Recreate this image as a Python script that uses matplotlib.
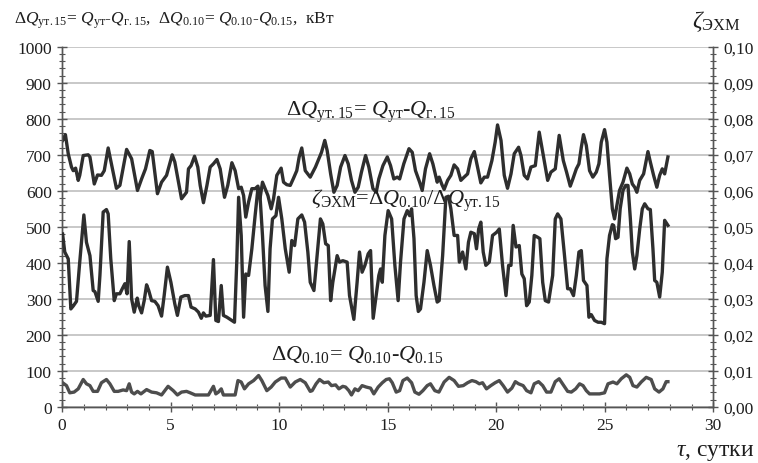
import matplotlib
matplotlib.use("Agg")
import matplotlib.pyplot as plt
from matplotlib.ticker import MultipleLocator, FuncFormatter

plt.rcParams['font.family'] = ['Liberation Serif', 'DejaVu Serif']
plt.rcParams['mathtext.fontset'] = 'custom'
plt.rcParams['mathtext.rm'] = 'Liberation Serif'
plt.rcParams['mathtext.it'] = 'Liberation Serif:italic'
plt.rcParams['mathtext.bf'] = 'Liberation Serif:bold'

# dQ_ut.15, kW (left axis)
top_days = [0.02, 0.15, 0.28, 0.43, 0.51, 0.62, 0.74, 0.81, 0.97, 1.20, 1.28, 1.48, 1.63, 1.81, 1.94,
            2.12, 2.27, 2.50, 2.66, 2.97, 3.20, 3.47, 3.66, 3.84, 4.04, 4.15, 4.39, 4.58, 4.81, 5.07,
            5.19, 5.50, 5.73, 5.82, 5.94, 6.10, 6.25, 6.36, 6.51, 6.67, 6.82, 6.97, 7.13, 7.28, 7.48,
            7.63, 7.82, 7.97, 8.13, 8.25, 8.36, 8.46, 8.59, 8.74, 8.89, 9.02, 9.12, 9.23, 9.35, 9.48,
            9.63, 9.74, 9.89, 10.09, 10.20, 10.35, 10.51, 10.66, 10.81, 10.92, 11.04, 11.20, 11.43,
            11.67, 11.83, 11.95, 12.10, 12.21, 12.37, 12.52, 12.67, 12.83, 13.03, 13.18, 13.33, 13.49,
            13.64, 13.79, 13.98, 14.13, 14.32, 14.47, 14.59, 14.78, 14.98, 15.13, 15.28, 15.44, 15.55,
            15.74, 15.98, 16.13, 16.28, 16.47, 16.59, 16.74, 16.93, 17.08, 17.28, 17.37, 17.50, 17.60,
            17.76, 17.91, 18.06, 18.22, 18.37, 18.52, 18.68, 18.83, 18.99, 19.14, 19.29, 19.45, 19.60,
            19.80, 19.95, 20.06, 20.22, 20.37, 20.52, 20.68, 20.83, 21.03, 21.14, 21.29, 21.44, 21.60,
            21.80, 21.98, 22.17, 22.37, 22.52, 22.72, 22.90, 23.09, 23.24, 23.41, 23.53, 23.69, 23.81,
            23.92, 24.02, 24.15, 24.30, 24.45, 24.61, 24.73, 24.84, 24.99, 25.10, 25.22, 25.35, 25.45,
            25.56, 25.68, 25.84, 26.02, 26.15, 26.27, 26.38, 26.48, 26.61, 26.79, 26.99, 27.10, 27.25,
            27.40, 27.53, 27.65, 27.76, 27.91]
top_kw = [740, 756, 703, 666, 656, 663, 629, 643, 698, 700, 694, 619, 644, 643, 656,
          719, 675, 607, 615, 715, 689, 601, 633, 661, 712, 709, 592, 624, 643, 700,
          680, 578, 596, 661, 670, 696, 666, 615, 567, 615, 666, 675, 687, 661, 582,
          615, 678, 656, 606, 610, 587, 527, 569, 606, 606, 613, 580, 624, 606, 587,
          550, 578, 643, 663, 624, 617, 615, 635, 656, 694, 719, 656, 638,
          666, 689, 707, 740, 712, 647, 596, 615, 666, 698, 675, 629, 596,
          610, 652, 698, 666, 606, 596, 633, 670, 694, 670, 633, 638, 633,
          675, 717, 707, 656, 624, 601, 661, 703, 675, 624, 638, 617, 604,
          629, 643, 672, 661, 629, 638, 647, 689, 709, 666, 622, 638, 638,
          684, 735, 783, 740, 643, 607, 647, 703, 721, 698, 643, 633, 666,
          670, 763, 698, 629, 652, 661, 754, 684, 652, 613, 633, 661, 675,
          721, 756, 726, 656, 638, 652, 675, 735, 770, 735, 643, 550, 522,
          559, 601, 624, 663, 647, 619, 610, 596, 629, 647, 709, 680, 643,
          610, 643, 661, 647, 694]

# zeta_EXM = dQ_0.10 / dQ_ut.15 (right axis)
zeta_days = [0.02, 0.12, 0.28, 0.40, 0.51, 0.66, 0.81, 1.00, 1.12, 1.28, 1.43, 1.51, 1.66, 1.74, 1.89,
             2.04, 2.12, 2.24, 2.40, 2.50, 2.66, 2.77, 2.89, 2.99, 3.09, 3.20, 3.32, 3.46, 3.53, 3.66,
             3.78, 3.89, 3.99, 4.12, 4.27, 4.42, 4.58, 4.70, 4.85, 5.01, 5.19, 5.31, 5.47, 5.65, 5.82,
             5.94, 6.13, 6.28, 6.41, 6.51, 6.62, 6.82, 6.97, 7.08, 7.20, 7.33, 7.43, 7.59, 7.74, 7.94,
             8.05, 8.13, 8.25, 8.36, 8.46, 8.59, 8.74, 8.89, 9.02, 9.12, 9.23, 9.35, 9.48, 9.58, 9.69,
             9.85, 9.97, 10.12, 10.28, 10.46, 10.58, 10.71, 10.86, 11.04, 11.17, 11.32, 11.43, 11.60,
             11.75, 11.90, 12.01, 12.14, 12.26, 12.37, 12.47, 12.60, 12.67, 12.78, 12.93, 13.13, 13.24,
             13.44, 13.59, 13.70, 13.82, 13.95, 14.10, 14.21, 14.33, 14.49, 14.59, 14.67, 14.75, 14.87,
             15.02, 15.18, 15.33, 15.48, 15.59, 15.75, 15.90, 16.01, 16.10, 16.21, 16.31, 16.41, 16.51,
             16.67, 16.82, 16.97, 17.13, 17.28, 17.37, 17.53, 17.68, 17.80, 17.91, 18.06, 18.22, 18.30,
             18.45, 18.60, 18.72, 18.83, 18.99, 19.09, 19.19, 19.29, 19.40, 19.52, 19.68, 19.83, 20.02,
             20.14, 20.29, 20.45, 20.57, 20.68, 20.78, 20.91, 21.06, 21.18, 21.29, 21.40, 21.52, 21.64,
             21.75, 21.91, 22.01, 22.14, 22.26, 22.41, 22.60, 22.72, 22.83, 22.98, 23.13, 23.29, 23.41,
             23.56, 23.69, 23.81, 23.92, 24.02, 24.18, 24.27, 24.38, 24.53, 24.69, 24.84, 24.99, 25.10,
             25.22, 25.35, 25.41, 25.50, 25.61, 25.71, 25.84, 25.96, 26.07, 26.18, 26.27, 26.38, 26.48,
             26.61, 26.73, 26.84, 26.99, 27.10, 27.22, 27.30, 27.40, 27.53, 27.65, 27.76, 27.91]
zeta = [0.0480, 0.0430, 0.0411, 0.0272, 0.0280, 0.0293, 0.0402, 0.0533, 0.0457, 0.0420, 0.0323, 0.0320,
        0.0293, 0.0365, 0.0541, 0.0548, 0.0536, 0.0411, 0.0295, 0.0314, 0.0314, 0.0328, 0.0342, 0.0314,
        0.0459, 0.0300, 0.0263, 0.0302, 0.0281, 0.0261, 0.0295, 0.0339, 0.0323, 0.0295, 0.0293, 0.0281,
        0.0252, 0.0309, 0.0388, 0.0346, 0.0286, 0.0254, 0.0305, 0.0309, 0.0309, 0.0277, 0.0272, 0.0263,
        0.0246, 0.0261, 0.0252, 0.0254, 0.0409, 0.0240, 0.0237, 0.0337, 0.0254, 0.0249, 0.0243, 0.0235,
        0.0411, 0.0582, 0.0476, 0.0249, 0.0369, 0.0365, 0.0439, 0.0531, 0.0606, 0.0582, 0.0476, 0.0337,
        0.0265, 0.0439, 0.0522, 0.0531, 0.0582, 0.0522, 0.0439, 0.0374, 0.0462, 0.0448, 0.0522, 0.0533,
        0.0513, 0.0430, 0.0346, 0.0323, 0.0422, 0.0522, 0.0508, 0.0453, 0.0448, 0.0295, 0.0346, 0.0393,
        0.0420, 0.0402, 0.0406, 0.0402, 0.0309, 0.0243, 0.0346, 0.0430, 0.0374, 0.0393, 0.0425, 0.0434,
        0.0246, 0.0319, 0.0365, 0.0383, 0.0346, 0.0476, 0.0545, 0.0522, 0.0393, 0.0295, 0.0402, 0.0522,
        0.0545, 0.0531, 0.0550, 0.0467, 0.0309, 0.0265, 0.0272, 0.0346, 0.0434, 0.0393, 0.0337, 0.0291,
        0.0295, 0.0420, 0.0582, 0.0585, 0.0550, 0.0476, 0.0476, 0.0402, 0.0430, 0.0383, 0.0457, 0.0485,
        0.0481, 0.0439, 0.0494, 0.0513, 0.0430, 0.0393, 0.0402, 0.0476, 0.0485, 0.0494, 0.0393, 0.0309,
        0.0393, 0.0393, 0.0504, 0.0444, 0.0448, 0.0369, 0.0356, 0.0281, 0.0291, 0.0365, 0.0476, 0.0471,
        0.0467, 0.0346, 0.0295, 0.0291, 0.0365, 0.0522, 0.0536, 0.0522, 0.0430, 0.0328, 0.0328, 0.0309,
        0.0365, 0.0430, 0.0434, 0.0351, 0.0337, 0.0249, 0.0256, 0.0240, 0.0235, 0.0235, 0.0231, 0.0411,
        0.0476, 0.0506, 0.0504, 0.0467, 0.0471, 0.0550, 0.0601, 0.0615, 0.0615, 0.0522, 0.0430, 0.0383,
        0.0420, 0.0494, 0.0550, 0.0564, 0.0550, 0.0548, 0.0439, 0.0351, 0.0346, 0.0305, 0.0374, 0.0518,
        0.0504]

# dQ_0.10, kW (left axis)
low_days = [0.02, 0.20, 0.35, 0.55, 0.74, 0.97, 1.12, 1.28, 1.43, 1.63, 1.81, 2.04, 2.20, 2.40, 2.58,
            2.81, 2.97, 3.09, 3.20, 3.32, 3.47, 3.63, 3.89, 4.12, 4.35, 4.58, 4.73, 4.88, 5.12, 5.31,
            5.50, 5.73, 5.90, 6.13, 6.44, 6.74, 6.97, 7.08, 7.20, 7.33, 7.43, 7.66, 7.97, 8.10, 8.25,
            8.40, 8.59, 8.82, 9.05, 9.20, 9.43, 9.63, 9.82, 10.09, 10.28, 10.51, 10.74, 10.97, 11.20,
            11.43, 11.52, 11.70, 11.86, 12.06, 12.26, 12.41, 12.60, 12.75, 12.93, 13.06, 13.21, 13.33,
            13.49, 13.64, 13.82, 14.01, 14.21, 14.36, 14.56, 14.75, 14.93, 15.08, 15.21, 15.39, 15.55,
            15.70, 15.90, 16.10, 16.25, 16.44, 16.62, 16.82, 16.97, 17.17, 17.36, 17.60, 17.83, 18.06,
            18.26, 18.48, 18.68, 18.88, 19.06, 19.22, 19.37, 19.55, 19.75, 19.95, 20.14, 20.32, 20.52,
            20.72, 20.88, 21.03, 21.24, 21.40, 21.60, 21.75, 21.95, 22.14, 22.32, 22.52, 22.72, 22.90,
            23.09, 23.29, 23.46, 23.66, 23.84, 24.00, 24.15, 24.30, 24.53, 24.76, 24.99, 25.15, 25.38,
            25.56, 25.76, 25.99, 26.15, 26.30, 26.48, 26.68, 26.91, 27.14, 27.30, 27.50, 27.68, 27.83,
            27.91]
low_kw = [67, 59, 39, 41, 50, 76, 64, 59, 43, 43, 67, 76, 64, 43, 43,
          47, 45, 64, 41, 36, 43, 36, 48, 41, 39, 33, 45, 57, 45, 33,
          41, 43, 39, 33, 33, 33, 57, 36, 41, 50, 33, 33, 33, 73, 69,
          50, 64, 73, 87, 73, 45, 55, 69, 80, 80, 55, 69, 76, 67,
          43, 45, 64, 76, 67, 69, 59, 61, 50, 57, 55, 45, 33,
          50, 45, 59, 55, 52, 36, 55, 67, 76, 78, 67, 41, 45,
          73, 80, 67, 41, 35, 45, 59, 64, 45, 41, 69, 82, 73,
          57, 59, 67, 73, 70, 64, 67, 50, 59, 67, 73, 59, 41,
          52, 70, 64, 59, 45, 39, 64, 70, 59, 41, 41, 70, 78,
          61, 43, 41, 50, 64, 59, 45, 36, 36, 36, 39, 64, 69,
          64, 78, 89, 82, 59, 55, 69, 82, 76, 50, 41, 50, 70,
          70]

x_ticks = [0, 5, 10, 15, 20, 25, 30]

line_col = '#2e2e2e'
axis_col = '#555555'
text_col = '#1e1e1e'

fig = plt.figure(figsize=(7.58, 4.64), dpi=100)
ax = fig.add_axes([0.082, 0.121, 0.859, 0.776])
ax2 = ax.twinx()

ax.plot(top_days, top_kw, color=line_col, lw=2.4, solid_joinstyle='round', zorder=3)
ax.plot(low_days, low_kw, color='#4d4d4d', lw=2.4, solid_joinstyle='round', zorder=3)
ax2.plot(zeta_days, zeta, color=line_col, lw=2.4, solid_joinstyle='round', zorder=3)

ax.set_xlim(0, 30)
ax.set_ylim(0, 1000)
ax2.set_ylim(0, 0.1)
ax.set_xticks(x_ticks)
ax.xaxis.set_minor_locator(MultipleLocator(1))
ax.yaxis.set_major_locator(MultipleLocator(100))
ax.yaxis.set_minor_locator(MultipleLocator(20))
ax2.yaxis.set_major_locator(MultipleLocator(0.01))
ax2.yaxis.set_minor_locator(MultipleLocator(0.002))
ax2.yaxis.set_major_formatter(FuncFormatter(lambda v, p: ('%.2f' % v).replace('.', ',')))

ax.yaxis.grid(True, color='#c4c4c4', lw=1.3)
ax.set_axisbelow(True)

for a in (ax, ax2):
    a.spines['top'].set_visible(False)
    for s in ('left', 'right', 'bottom'):
        a.spines[s].set_color(axis_col)
        a.spines[s].set_linewidth(1.0)
    a.tick_params(which='major', direction='inout', length=7, width=1, color=axis_col,
                  labelsize=12.5, labelcolor=text_col, pad=4)
    a.tick_params(which='minor', direction='inout', length=4, width=0.8, color=axis_col)

fig.text(0.018, 0.955,
         r'$\Delta Q_{\mathrm{ут.15}}$= $Q_{\mathrm{ут}}$-$Q_{\mathrm{г.15}}$,  '
         r'$\Delta Q_{\mathrm{0.10}}$= $Q_{\mathrm{0.10}}$-$Q_{\mathrm{0.15}}$,  кВт',
         fontsize=12.5, va='center', ha='left', color=text_col)
fig.text(0.945, 0.953, r'$\zeta_{\mathrm{ЭХМ}}$', fontsize=17, va='center', ha='center', color=text_col)
fig.text(0.995, 0.024, r'$\tau$, сутки', fontsize=17, va='center', ha='right', color=text_col)

ax.text(14.2, 822, r'$\Delta Q_{\mathrm{ут.15}}$= $Q_{\mathrm{ут}}$-$Q_{\mathrm{г.15}}$',
        fontsize=16, ha='center', va='center', color=text_col, zorder=5)
ax.text(15.85, 575, r'$\zeta_{\mathrm{ЭХМ}}$=$\Delta Q_{\mathrm{0.10}}$/$\Delta Q_{\mathrm{ут.15}}$',
        fontsize=16, ha='center', va='center', color=text_col, zorder=5)
ax.text(13.6, 147, r'$\Delta Q_{\mathrm{0.10}}$= $Q_{\mathrm{0.10}}$-$Q_{\mathrm{0.15}}$',
        fontsize=16, ha='center', va='center', color=text_col, zorder=5)

fig.savefig('out.png', dpi=100)
